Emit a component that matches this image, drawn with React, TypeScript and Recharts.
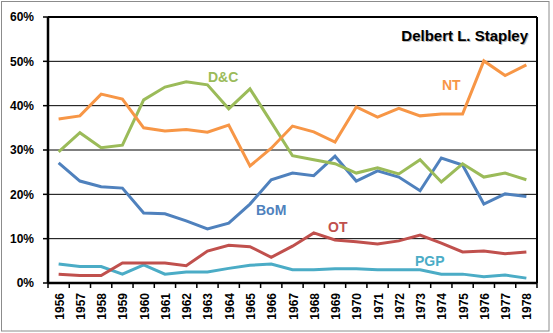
import React from 'react';
import {
  LineChart,
  Line,
  XAxis,
  YAxis,
  CartesianGrid,
  ReferenceLine
} from 'recharts';

// years on the x axis
const years = [
  '1956', '1957', '1958', '1959', '1960', '1961', '1962', '1963', '1964', '1965', '1966', '1967',
  '1968', '1969', '1970', '1971', '1972', '1973', '1974', '1975', '1976', '1977', '1978'
];

// share of references, in %
const ntValues = [37.0, 37.7, 42.6, 41.5, 35.0, 34.3, 34.6, 34.0, 35.6, 26.4, 30.4, 35.4, 34.1, 31.8, 39.7, 37.4, 39.4, 37.7, 38.1, 38.1, 50.1, 46.8, 49.2];
const dcValues = [29.6, 33.9, 30.5, 31.1, 41.3, 44.2, 45.4, 44.7, 39.3, 43.8, 36.3, 28.7, 27.8, 26.9, 24.8, 26.0, 24.6, 27.8, 22.8, 26.9, 23.9, 24.8, 23.3];
const bomValues = [27.1, 23.0, 21.7, 21.4, 15.8, 15.6, 14.0, 12.2, 13.5, 17.8, 23.3, 24.8, 24.2, 28.6, 23.0, 25.3, 23.9, 20.8, 28.2, 26.6, 17.8, 20.1, 19.5];
const otValues = [2.0, 1.7, 1.7, 4.5, 4.5, 4.5, 3.9, 7.2, 8.5, 8.2, 5.8, 8.3, 11.3, 9.7, 9.3, 8.8, 9.5, 10.8, 9.0, 7.0, 7.2, 6.6, 7.0];
const pgpValues = [4.3, 3.7, 3.7, 2.0, 4.1, 2.0, 2.5, 2.5, 3.3, 4.0, 4.3, 3.0, 3.0, 3.2, 3.2, 3.0, 3.0, 3.0, 2.0, 2.0, 1.4, 1.8, 1.1];

const yTicks = [0, 10, 20, 30, 40, 50, 60];

const data = years.map((year, i) => ({
  year,
  nt: ntValues[i],
  dc: dcValues[i],
  bom: bomValues[i],
  ot: otValues[i],
  pgp: pgpValues[i]
}));

const W = 553;
const H = 333;
const PLOT_LEFT = 48;
const PLOT_RIGHT = 537;
const BAND = (PLOT_RIGHT - PLOT_LEFT) / years.length;
const FONT = '"Liberation Sans", Arial, sans-serif';

const YearTick = (props: any) => {
  const { x, y, payload, index } = props;
  const axisY = y - 10;
  return (
    <g>
      <line x1={x - BAND / 2} x2={x - BAND / 2} y1={axisY} y2={axisY + 5} stroke="#000" strokeWidth={1.5} />
      {index === years.length - 1 && (
        <line x1={x + BAND / 2} x2={x + BAND / 2} y1={axisY} y2={axisY + 5} stroke="#000" strokeWidth={1.5} />
      )}
      <text
        x={x + 1}
        y={y}
        transform={`rotate(-90, ${x + 1}, ${y})`}
        textAnchor="end"
        dominantBaseline="central"
        fontSize={12}
        fontWeight="bold"
        fontFamily={FONT}
        fill="#000"
      >
        {payload.value}
      </text>
    </g>
  );
};

const App: React.FC = () => {
  return (
    <div style={{ position: 'relative', width: W, height: H, background: '#fff' }}>
      <style>{`body { margin: 0; }`}</style>
      <LineChart
        width={W}
        height={H}
        data={data}
        margin={{ top: 17, right: W - PLOT_RIGHT - 1, left: 0, bottom: 0 }}
      >
        <CartesianGrid vertical={false} stroke="#000" strokeWidth={1} />
        <XAxis
          dataKey="year"
          scale="band"
          interval={0}
          height={50}
          tickSize={5}
          tickMargin={5}
          tickLine={false}
          axisLine={{ stroke: '#000', strokeWidth: 2.5 }}
          tick={<YearTick />}
        />
        <YAxis
          width={PLOT_LEFT}
          domain={[0, 60]}
          ticks={yTicks}
          tickFormatter={(v: number) => `${v}%`}
          tickSize={5}
          tickMargin={9}
          tickLine={{ stroke: '#000', strokeWidth: 1.5 }}
          axisLine={{ stroke: '#000', strokeWidth: 2.5 }}
          tick={{ fontSize: 12, fontWeight: 'bold', fill: '#000', fontFamily: FONT }}
        />
        <YAxis
          yAxisId="frame"
          orientation="right"
          width={1}
          domain={[0, 60]}
          tick={false}
          tickLine={false}
          axisLine={{ stroke: '#000', strokeWidth: 2 }}
        />
        <ReferenceLine y={60} stroke="#000" strokeWidth={2} />
        <Line dataKey="pgp" stroke="#4BACC6" strokeWidth={3} dot={false} isAnimationActive={false} />
        <Line dataKey="ot" stroke="#C0504D" strokeWidth={3} dot={false} isAnimationActive={false} />
        <Line dataKey="bom" stroke="#4F81BD" strokeWidth={3} dot={false} isAnimationActive={false} />
        <Line dataKey="dc" stroke="#9BBB59" strokeWidth={3} dot={false} isAnimationActive={false} />
        <Line dataKey="nt" stroke="#F79646" strokeWidth={3} dot={false} isAnimationActive={false} />
      </LineChart>
      <svg
        width={W}
        height={H}
        style={{ position: 'absolute', left: 0, top: 0, pointerEvents: 'none' }}
        fontFamily={FONT}
        fontWeight="bold"
      >
        <rect x={1.5} y={1.5} width={547.5} height={329.5} fill="none" stroke="#8c8c8c" strokeWidth={1} />
        <text x={528} y={41} textAnchor="end" fontSize={15} fill="#bbb" transform="translate(1,1)">Delbert L. Stapley</text>
        <text x={528} y={41} textAnchor="end" fontSize={15} fill="#000">Delbert L. Stapley</text>
        <text x={208} y={82} fontSize={14} fill="#9BBB59">D&amp;C</text>
        <text x={442} y={90} fontSize={14} fill="#F79646">NT</text>
        <text x={256} y={215} fontSize={14} fill="#4F81BD">BoM</text>
        <text x={328} y={232} fontSize={14} fill="#C0504D">OT</text>
        <text x={415} y={266} fontSize={14} fill="#4BACC6">PGP</text>
      </svg>
    </div>
  );
};

export default App;
